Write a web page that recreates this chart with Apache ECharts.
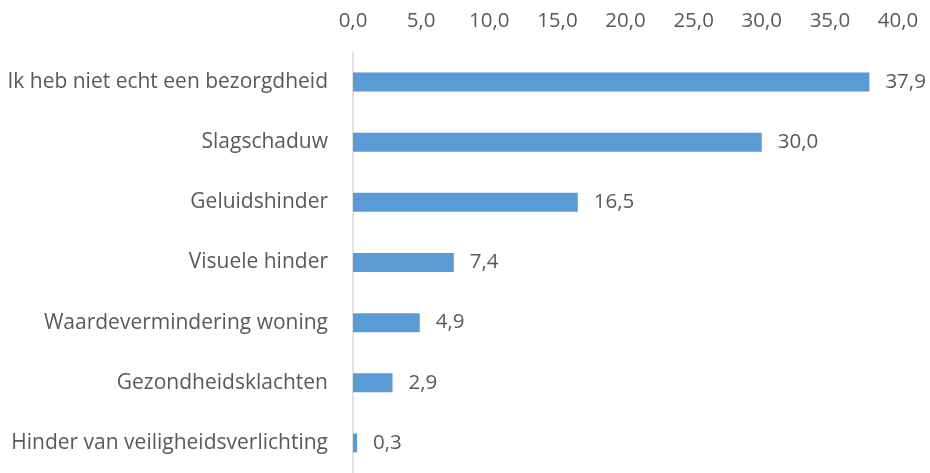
<!DOCTYPE html>
<html>
<head>
<meta charset="utf-8">
<script src="https://cdn.jsdelivr.net/npm/echarts@6/dist/echarts.min.js"></script>
<style>
  html, body { margin: 0; padding: 0; background: #fff; }
  #main { width: 930px; height: 473px; }
</style>
</head>
<body>
<div id="main"></div>
<script>
var categories = [
    'Ik heb niet echt een bezorgdheid',
    'Slagschaduw',
    'Geluidshinder',
    'Visuele hinder',
    'Waardevermindering woning',
    'Gezondheidsklachten',
    'Hinder van veiligheidsverlichting'
];
var values = [37.9, 30.0, 16.5, 7.4, 4.9, 2.9, 0.3];

function fmt(v) {
    return Number(v).toFixed(1).replace('.', ',');
}

var chart = echarts.init(document.getElementById('main'));
var option = {
    animation: false,
    textStyle: { fontFamily: 'Open Sans' },
    grid: { left: 353, right: 32, top: 52, height: 427 },
    xAxis: {
        type: 'value',
        position: 'top',
        min: 0,
        max: 40,
        interval: 5,
        axisLine: { show: false },
        axisTick: { show: false },
        splitLine: { show: false },
        axisLabel: {
            color: '#595959',
            fontSize: 20.5,
            margin: 20,
            formatter: fmt
        }
    },
    yAxis: {
        type: 'category',
        inverse: true,
        data: categories,
        axisLine: { show: true, lineStyle: { color: '#d9d9d9', width: 1.5 } },
        axisTick: { show: false },
        axisLabel: { color: '#595959', fontSize: 21, margin: 25 }
    },
    series: [{
        type: 'bar',
        data: values,
        barWidth: 19,
        itemStyle: { color: '#5b9bd5' },
        label: {
            show: true,
            position: 'right',
            distance: 16,
            color: '#595959',
            fontSize: 20.5,
            formatter: function (p) { return fmt(p.value); }
        }
    }]
};
chart.setOption(option);
</script>
</body>
</html>
